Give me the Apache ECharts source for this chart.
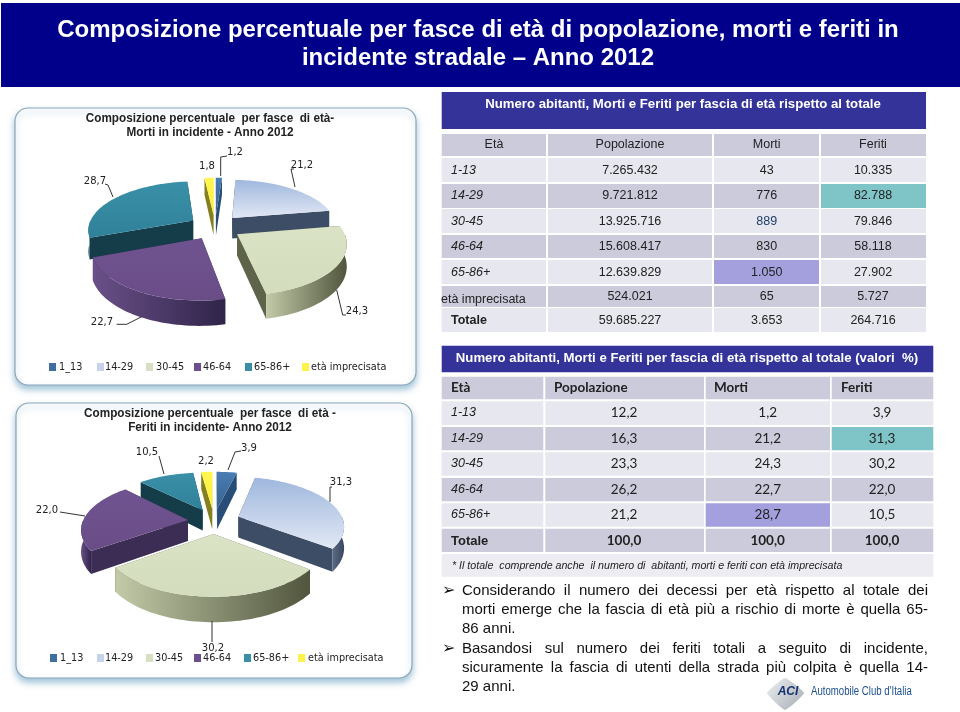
<!DOCTYPE html>
<html><head><meta charset="utf-8">
<style>html,body{margin:0;padding:0;background:#fff}#c{width:960px;height:712px}</style>
<script src="https://cdn.jsdelivr.net/npm/echarts@6/dist/echarts.min.js"></script>
</head><body><div id="c"></div>
<script>
// ---------- data ----------
const categories = ['1_13','14-29','30-45','46-64','65-86+','età imprecisata'];
const mortiShare  = [1.2,21.2,24.3,22.7,28.7,1.8];
const feritiShare = [3.9,31.3,30.2,22.0,10.5,2.2];

const absHeaders  = ['Età','Popolazione','Morti','Feriti'];
const absAges     = ['1-13','14-29','30-45','46-64','65-86+','età imprecisata','Totale'];
const absPop      = ['7.265.432','9.721.812','13.925.716','15.608.417','12.639.829','524.021','59.685.227'];
const absMorti    = ['43','776','889','830','1.050','65','3.653'];
const absFeriti   = ['10.335','82.788','79.846','58.118','27.902','5.727','264.716'];

const pctAges     = ['1-13','14-29','30-45','46-64','65-86+','Totale'];
const pctPop      = ['12,2','16,3','23,3','26,2','21,2','100,0'];
const pctMorti    = ['1,2','21,2','24,3','22,7','28,7','100,0'];
const pctFeriti   = ['3,9','31,3','30,2','22,0','10,5','100,0'];

const mainTitle   = ['Composizione percentuale per fasce di età di popolazione, morti e feriti in','incidente stradale – Anno 2012'];
const absTitle    = 'Numero abitanti, Morti e Feriti per fascia di età rispetto al totale';
const pctTitle    = 'Numero abitanti, Morti e Feriti per fascia di età rispetto al totale (valori  %)';
const footnote    = '* Il totale  comprende anche  il numero di  abitanti, morti e feriti con età imprecisata';
const mortiTitle  = ['Composizione percentuale  per fasce  di età-','Morti in incidente - Anno 2012'];
const feritiTitle = ['Composizione percentuale  per fasce  di età -','Feriti in incidente- Anno 2012'];
const notes = [
  ['Considerando il numero dei decessi per età rispetto al totale dei', true, true],
  ['morti emerge che la fascia di età più a rischio di morte è quella 65-', true, false],
  ['86 anni.', false, false],
  ['Basandosi sul numero dei feriti totali a seguito di incidente,', true, true],
  ['sicuramente la fascia di utenti della strada più colpita è quella 14-', true, false],
  ['29 anni.', false, false]
];

// ---------- styling / layout ----------
const LD='#e7e7ef', DK='#cbcbdc', BAND='#333399', TEAL='#7fc4c7', LILAC='#a3a0dd', INK='#222';
const ARIAL='"Liberation Sans",Arial,sans-serif', LATO='Lato,"Open Sans",sans-serif', DJ='"DejaVu Sans",sans-serif';
const swatch=['#3f6f9f','#c6d3ea','#d8e0c3','#6b4f8e','#3a8fa8','#fff24d'];
const topFill=[
  ['#4a7db3','#35628f'],['#9fb8de','#e2e8f4'],['#dbe3c6','#d3dcbc'],
  ['#6f5390','#6a4d87'],['#3a90a8','#2f8199'],['#fff650','#fbee3c']];
const wallFill=['#284e78','#3e4d66','#5e644a','#3c2d54','#153d49','#85801f'];
const stripFill=[['#3f5f88','#2c4a70'],['#5a6a84','#384860'],['#c2caa8','#50553d'],['#6a5088','#30244a'],['#2a6a7c','#153d49'],['#a8a030','#85801f']];
const geom={rx:105,ry:50,k:.17,d:.25,h:21};
const mortiSpots=[
  {t:[235,152],l:[[220.7,176],[220.7,157],[227,156]]},
  {t:[302,165],l:[[295,187],[291,169],[294,169]]},
  {t:[357,311],l:[[336.7,290],[342.7,315],[346,315]]},
  {t:[102,322],l:[[141.7,316.7],[126.7,324.3],[116.7,324.3]]},
  {t:[95,181],l:[[113,197],[108,185],[105,184]]},
  {t:[207,166],l:null}];
const feritiSpots=[
  {t:[249,448],l:[[228,470],[235,452],[241,451]]},
  {t:[341,482],l:[[330,502],[330,487],[332,487]]},
  {t:[213,648],l:[[212,621],[212,642]]},
  {t:[47,510],l:[[85,516],[60,512]]},
  {t:[147,452],l:[[164,474],[159,456]]},
  {t:[206,461],l:null}];

const fmt=v=>v.toFixed(1).replace('.',',');
const grad=(c,h)=>({type:'linear',x:0,y:0,x2:h?1:0,y2:h?0:1,colorStops:[{offset:0,color:c[0]},{offset:1,color:c[1]}]});

function pieRender(values,cx,cy,spots){
  const total=values.reduce((a,b)=>a+b,0), R=Math.PI/180;
  return function(params,api){
    const i=params.dataIndex; let acc=0;
    for(let j=0;j<i;j++)acc+=values[j];
    const a0=acc/total*360, a1=(acc+api.value(0))/total*360, m=(a0+a1)/2*R;
    const ou=geom.d*Math.sin(m), ov=-geom.d*Math.cos(m);
    const P=(u,v,drop)=>{const s=1+geom.k*v;return [cx+geom.rx*s*u, cy+geom.ry*s*v+(drop?geom.h*s:0)];};
    const rim=(deg,drop)=>P(ou+Math.sin(deg*R),ov-Math.cos(deg*R),drop);
    const arc=(from,to,drop)=>{const n=Math.max(2,Math.ceil((to-from)/2)),o=[];for(let q=0;q<=n;q++)o.push(rim(from+(to-from)*q/n,drop));return o;};
    const z=30+Math.round(ov*40);
    const kids=[];
    const tip=P(ou,ov,false), tipD=P(ou,ov,true);
    [a0,a1].forEach(a=>kids.push({type:'polygon',z2:z,shape:{points:[tip,rim(a,false),rim(a,true),tipD]},style:{fill:wallFill[i]}}));
    const f0=Math.max(a0,90), f1=Math.min(a1,270);
    if(f1>f0){kids.push({type:'polygon',z2:z+1,shape:{points:arc(f0,f1,false).concat(arc(f0,f1,true).reverse())},style:{fill:grad(stripFill[i],true)}});}
    kids.push({type:'polygon',z2:z+2,shape:{points:[tip].concat(arc(a0,a1,false))},style:{fill:grad(topFill[i],false)}});
    const sp=spots[i];
    if(sp.l)kids.push({type:'polyline',z2:90,shape:{points:sp.l},style:{stroke:'#333',lineWidth:1,fill:'none'}});
    kids.push({type:'text',z2:91,style:{text:fmt(api.value(0)),x:sp.t[0],y:sp.t[1],font:'10px '+DJ,fill:INK,textAlign:'center',textVerticalAlign:'middle'}});
    return {type:'group',children:kids};
  };
}

// ---------- static slide pieces drawn with ECharts graphic ----------
const G=[];
const T=(text,x,y,font,fill,align,extra)=>G.push(Object.assign({type:'text',silent:true,style:{text,x,y,font,fill:fill||INK,textAlign:align||'left',textVerticalAlign:'middle'}},extra||{}));
const Rr=(x0,y0,x1,y1,fill)=>G.push({type:'rect',silent:true,shape:{x:x0,y:y0,width:x1-x0,height:y1-y0},style:{fill}});

// title band
Rr(1,3,960,87,'#00008b');
T(mainTitle[0],478,30,'bold 24px '+ARIAL,'#fff','center');
T(mainTitle[1],478,58,'bold 24px '+ARIAL,'#fff','center');

// chart cards
function card(x,y,w,h){G.push({type:'rect',silent:true,shape:{x,y,width:w,height:h,r:13},style:{fill:'#fff',stroke:'#8aa6ba',lineWidth:1.2,shadowBlur:6,shadowOffsetY:4,shadowColor:'rgba(70,140,180,.5)'}});}
card(15,108,401,277);
card(16,403,396,275);
const cardHead=(t,y)=>T(t,210,y,'bold 13.2px '+ARIAL,'#222','center',{scaleX:.89,originX:210,originY:y});
cardHead(mortiTitle[0],118); cardHead(mortiTitle[1],132);
cardHead(feritiTitle[0],413); cardHead(feritiTitle[1],427);
function legend(y,sq,tx){categories.forEach((c,i)=>{Rr(sq[i],y-4,sq[i]+7,y+4,swatch[i]);T(c,tx[i],y,'9.7px '+DJ,INK);});}
legend(367,[49,97,146,194,245,302],[59,105,156,203,254,311]);
legend(658,[50,97,146,194,244,298],[60,105,155,203,253,308]);

// absolute table
Rr(441.7,92,926,129,BAND);
T(absTitle,683,104,'bold 13.2px '+ARIAL,'#fff','center');
const c1=[[441.7,546],[548,712],[714,819],[821,926]];
const r1=[[134,156],[158,182],[184,208],[209,233],[235,258],[260,284],[286,307],[308,332]];
const cy1=[145,171,196,222,247,273,297,321];
r1.forEach((r,ri)=>{c1.forEach((c,ci)=>{
  let f=(ri===0||ri%2===0&&ri<7&&ri>0||ri===6)?DK:LD;
  if(ri===2&&ci===3)f=TEAL; if(ri===5&&ci===2)f=LILAC;
  Rr(c[0],r[0],c[1],r[1],f);
});});
const cols1=[630,766.7,873];
absHeaders.forEach((h,i)=>T(h,i===0?494:cols1[i-1],cy1[0],'12.5px '+ARIAL,INK,'center'));
absAges.forEach((a,i)=>{
  if(i===5)T(a,441,300,'12.5px '+ARIAL,INK);
  else if(i===6)T(a,451,cy1[7],'bold 12.5px '+ARIAL,INK);
  else T(a,451,cy1[i+1],'italic 12.5px '+ARIAL,INK);
  T(absPop[i],cols1[0],cy1[i+1],'12.5px '+ARIAL,INK,'center');
  T(absMorti[i],cols1[1],cy1[i+1],'12.5px '+ARIAL,i===2?'#1f3d66':INK,'center');
  T(absFeriti[i],cols1[2],cy1[i+1],'12.5px '+ARIAL,INK,'center');
});

// percent table
Rr(441.7,345.7,933.3,372.3,BAND);
T(pctTitle,687,358,'bold 13.2px '+ARIAL,'#fff','center');
const c2=[[441.7,543.3],[545.3,704],[705.7,830],[831.7,933.3]];
const r2=[[376.7,399.3],[401.3,425],[427,450.3],[452.3,475.7],[478,501.3],[503.3,526.7],[528.7,552]];
const cy2=[388,413,439,464,490,515,541];
r2.forEach((r,ri)=>{c2.forEach((c,ci)=>{
  let f=(ri%2===0)?DK:LD;
  if(ri===2&&ci===3)f=TEAL; if(ri===5&&ci===2)f=LILAC;
  Rr(c[0],r[0],c[1],r[1],f);
});});
Rr(441.7,554,933.3,576.7,'#ececf2');
[451,554,714,841].forEach((x,i)=>T(absHeaders[i],x,cy2[0],'bold 13.5px '+LATO,INK));
const cols2=[624,767.7,882];
pctAges.forEach((a,i)=>{
  const last=i===5;
  T(a,451,cy2[i+1],(last?'bold 13px ':'italic 12.5px ')+ARIAL,INK);
  [pctPop,pctMorti,pctFeriti].forEach((arr,k)=>T(arr[i],cols2[k],cy2[i+1],(last?'bold ':'')+'13.5px '+LATO,INK,'center'));
});
T(footnote,452,566,'italic 10.65px '+ARIAL,INK);

// bullet notes, justified word by word
const mctx=document.createElement('canvas').getContext('2d');
const noteFont='15px '+ARIAL;
mctx.font=noteFont;
const noteY=[591,610,629,649,668,687], NX0=462, NX1=928;
notes.forEach((n,i)=>{
  if(n[2])T('➢',442,noteY[i],'16px '+DJ,'#111');
  if(!n[1]){T(n[0],NX0,noteY[i],noteFont,'#111');return;}
  const words=n[0].split(' ');
  const w=words.map(s=>mctx.measureText(s).width);
  const gap=(NX1-NX0-w.reduce((a,b)=>a+b,0))/(words.length-1);
  let x=NX0;
  words.forEach((s,k)=>{T(s,x,noteY[i],noteFont,'#111');x+=w[k]+gap;});
});

// ACI logo
G.push({type:'polygon',silent:true,shape:{points:[[785,678],[804,693],[785,710],[767,693]],smooth:.12},style:{fill:{type:'linear',x:0,y:0,x2:1,y2:1,colorStops:[{offset:0,color:'#eef0f2'},{offset:1,color:'#a4acb4'}]}}});
T('ACI',788,692,'italic bold 12px '+ARIAL,'#12306e','center');
T("Automobile Club d'Italia",811,692,'12.5px '+ARIAL,'#1c4f8f','left',{scaleX:.77,originX:811,originY:692});

// ---------- chart ----------
const chart=echarts.init(document.getElementById('c'));
chart.setOption({
  animation:false,
  backgroundColor:'#fff',
  graphic:{elements:G},
  series:[
    {type:'custom',name:'Morti',coordinateSystem:'none',silent:true,z:3,
     data:mortiShare.map((v,i)=>({name:categories[i],value:[v]})),
     renderItem:pieRender(mortiShare,215,227,mortiSpots)},
    {type:'custom',name:'Feriti',coordinateSystem:'none',silent:true,z:3,
     data:feritiShare.map((v,i)=>({name:categories[i],value:[v]})),
     renderItem:pieRender(feritiShare,214,521,feritiSpots)}
  ]
});
</script></body></html>
